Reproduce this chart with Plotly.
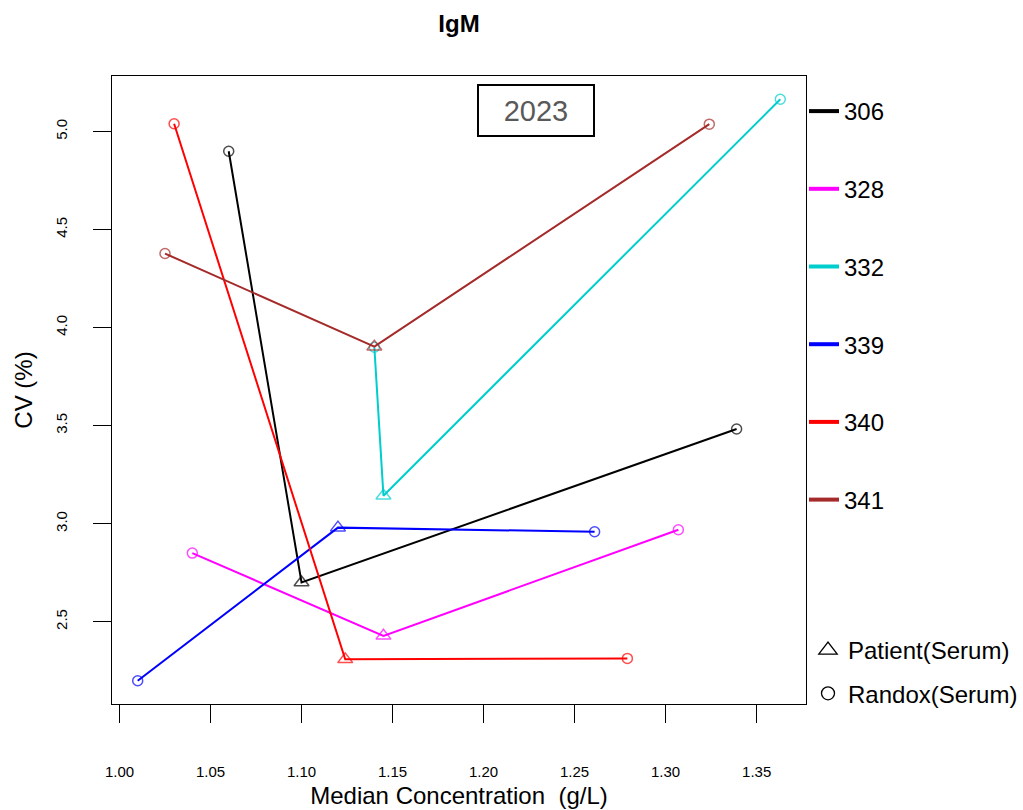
import plotly.graph_objects as go

# ---- data ----
labs = ["306", "328", "332", "339", "340", "341"]
colors = ["#000000", "#FF00FF", "#00CDCD", "#0000FF", "#FF0000", "#A52A2A"]

# each lab: Randox point, Patient point, Randox point (drawn in that order)
x_306 = [1.060, 1.100, 1.339]
y_306 = [4.90, 2.70, 3.483]
x_328 = [1.040, 1.145, 1.307]
y_328 = [2.85, 2.428, 2.969]
x_332 = [1.140, 1.145, 1.363]
y_332 = [3.90, 3.143, 5.165]
x_339 = [1.010, 1.120, 1.261]
y_339 = [2.199, 2.980, 2.959]
x_340 = [1.030, 1.124, 1.279]
y_340 = [5.04, 2.308, 2.313]
x_341 = [1.025, 1.140, 1.324]
y_341 = [4.378, 3.903, 5.038]

sample_types = ["Randox(Serum)", "Patient(Serum)", "Randox(Serum)"]

xs = [x_306, x_328, x_332, x_339, x_340, x_341]
ys = [y_306, y_328, y_332, y_339, y_340, y_341]

x_ticks = [1.00, 1.05, 1.10, 1.15, 1.20, 1.25, 1.30, 1.35]
y_ticks = [2.5, 3.0, 3.5, 4.0, 4.5, 5.0]

title_text = "IgM"
year_text = "2023"
x_title = "Median Concentration&nbsp;&nbsp;(g/L)"
y_title = "CV (%)"

symbol_of = {"Patient(Serum)": "triangle-up-open", "Randox(Serum)": "circle-open"}
size_of = {"Patient(Serum)": 13, "Randox(Serum)": 10}

FONT = "Arial, Liberation Sans, sans-serif"

fig = go.Figure()

for lab, col, xv, yv in zip(labs, colors, xs, ys):
    fig.add_trace(go.Scatter(
        x=xv, y=yv, mode="lines+markers",
        line=dict(color=col, width=2),
        marker=dict(symbol=[symbol_of[s] for s in sample_types],
                    size=[size_of[s] for s in sample_types],
                    color=col, line=dict(color=col, width=1.5)),
        showlegend=False, hoverinfo="x+y+name", name=lab,
    ))

# legend 1: labs (line only)
for lab, col in zip(labs, colors):
    fig.add_trace(go.Scatter(
        x=[None], y=[None], mode="lines", name=lab,
        line=dict(color=col, width=4),
        legend="legend", legendgroup=lab, showlegend=True,
    ))

# legend 2: sample types (symbol only)
for st in ["Patient(Serum)", "Randox(Serum)"]:
    fig.add_trace(go.Scatter(
        x=[None], y=[None], mode="markers", name=st,
        marker=dict(symbol=symbol_of[st], size=size_of[st] + 3, color="black",
                    line=dict(color="black", width=1.3)),
        legend="legend2", legendgroup=st, showlegend=True,
    ))

# R-style 4% axis padding
all_x = [v for xv in xs for v in xv]
all_y = [v for yv in ys for v in yv]
xspan = max(all_x) - min(all_x)
yspan = max(all_y) - min(all_y)
xr = [min(all_x) - 0.04 * xspan, max(all_x) + 0.04 * xspan]
yr = [min(all_y) - 0.04 * yspan, max(all_y) + 0.04 * yspan]

fig.update_layout(
    width=1023, height=810,
    margin=dict(l=112, r=217, t=76, b=106, autoexpand=False),
    paper_bgcolor="white", plot_bgcolor="white",
    font=dict(family=FONT, color="black"),
    title=dict(text="<b>" + title_text + "</b>", x=0.5, xref="paper", xanchor="center",
               y=1 - 24 / 810, yanchor="middle", font=dict(size=24, family=FONT)),
    xaxis=dict(range=xr, tickvals=x_ticks, ticktext=["%.2f" % v for v in x_ticks],
               ticks="outside", ticklen=18, tickwidth=1, tickcolor="black",
               ticklabelstandoff=36,
               showline=True, linecolor="black", linewidth=1, mirror=True,
               showgrid=False, zeroline=False,
               tickfont=dict(size=15, family=FONT),
               title=dict(text=x_title, font=dict(size=24, family=FONT), standoff=8)),
    yaxis=dict(range=yr, tickvals=y_ticks, ticktext=["%.1f" % v for v in y_ticks],
               ticks="outside", ticklen=18, tickwidth=1, tickcolor="black",
               tickangle=-90, ticklabelstandoff=20,
               showline=True, linecolor="black", linewidth=1, mirror=True,
               showgrid=False, zeroline=False,
               tickfont=dict(size=15, family=FONT),
               title=dict(text=y_title, font=dict(size=24, family=FONT), standoff=13)),
    legend=dict(x=(804 - 112) / 694, xanchor="left", y=1 + (76 - 89) / 628, yanchor="top",
                font=dict(size=24, family=FONT), tracegroupgap=43.5,
                bgcolor="rgba(0,0,0,0)", borderwidth=0),
    legend2=dict(x=(808 - 112) / 694, xanchor="left", y=1 - (628 - 76) / 628, yanchor="top",
                 font=dict(size=24, family=FONT), tracegroupgap=9,
                 bgcolor="rgba(0,0,0,0)", borderwidth=0),
    annotations=[dict(text=year_text, xref="paper", yref="paper",
                      x=(536 - 112) / 694, y=1 - (110.5 - 76) / 628,
                      xanchor="center", yanchor="middle", showarrow=False,
                      font=dict(size=29, color="#595959", family=FONT),
                      width=112, height=47, borderpad=1,
                      bordercolor="black", borderwidth=2, bgcolor="white")],
)

fig.write_html("out.html", config={"displayModeBar": False},
               post_script="document.body.style.margin='0';")
